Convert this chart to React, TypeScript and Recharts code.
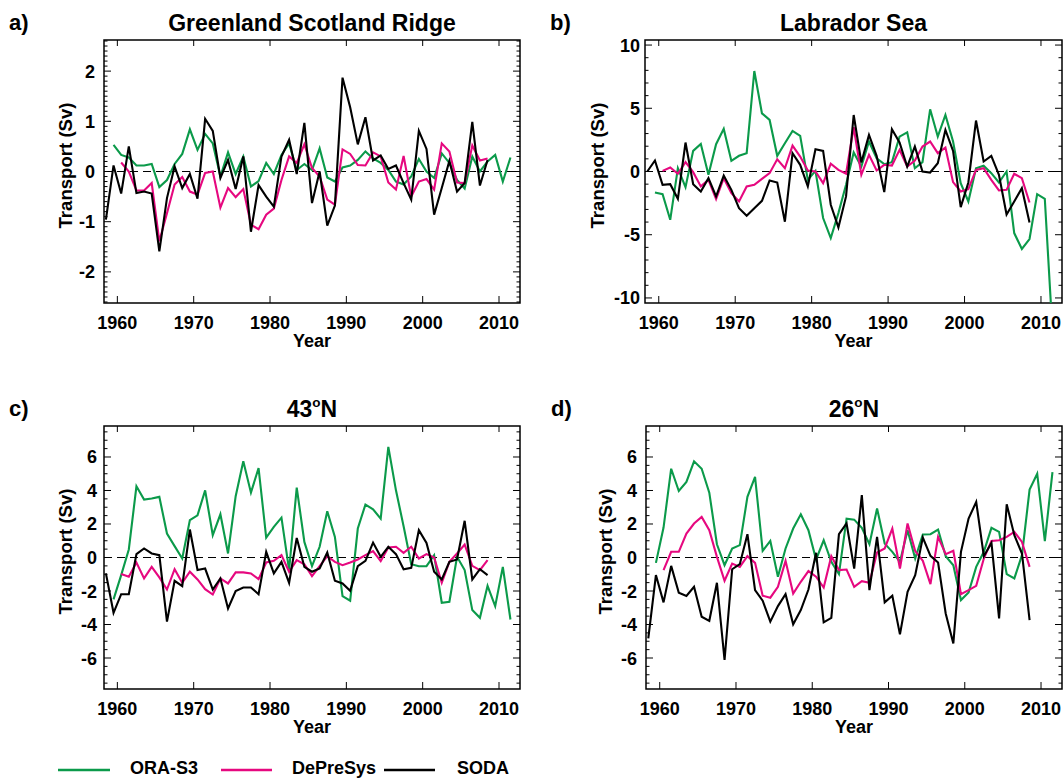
import React from "react";
import { LineChart, Line, XAxis, YAxis, ReferenceLine, ReferenceArea } from "recharts";

const FONT = "'Liberation Sans', Arial, Helvetica, sans-serif";
const GREEN = "#0b9a4a";
const PINK = "#e6087f";
const BLACK = "#000000";

const FIRST_YEAR = 1958;
const LAST_YEAR = 2011;
const ORA_START = 1959;
const DEP_START = 1960;
const SODA_START = 1958;
const yearTicks = [1960, 1970, 1980, 1990, 2000, 2010];

const seriesNames = ["ORA-S3", "DePreSys", "SODA"];

// a) Greenland Scotland Ridge
const gsrOra = [0.53, 0.33, 0.28, 0.12, 0.12, 0.15, -0.31, -0.17, 0.15, 0.35, 0.84, 0.43, 0.75, 0.56, -0.1, 0.38, -0.05, 0.3, -0.3, -0.19, 0.17, -0.05, 0.33, 0.56, 0.03, 0.15, 0.03, 0.46, -0.12, -0.2, 0.08, 0.12, 0.23, 0.4, 0.26, 0.17, 0.03, -0.2, -0.26, -0.1, 0.25, 0.0, -0.13, 0.36, 0.17, -0.17, -0.34, 0.3, 0.0, 0.2, 0.33, -0.2, 0.28];
const gsrDep = [0.18, 0.0, -0.38, -0.38, -0.23, -1.39, -0.83, -0.26, -0.11, -0.4, -0.46, -0.03, 0.0, -0.72, -0.33, -0.51, -0.35, -1.06, -1.15, -0.86, -0.74, -0.17, 0.3, 0.17, 0.54, 0.07, -0.1, -0.56, -0.66, 0.44, 0.35, 0.13, 0.12, 0.38, 0.3, -0.22, -0.36, 0.31, -0.5, -0.2, -0.15, -0.36, 0.56, 0.4, -0.22, -0.23, 0.52, 0.22, 0.26];
const gsrSoda = [-0.96, 0.12, -0.44, 0.5, -0.43, -0.4, -0.44, -1.59, -0.53, 0.1, -0.33, -0.05, -0.54, 1.05, 0.81, -0.13, 0.23, -0.35, 0.3, -1.2, -0.27, -0.5, -0.7, 0.3, 0.63, -0.05, 0.97, -0.63, 0.0, -1.08, -0.68, 1.87, 1.28, 0.54, 1.08, 0.22, 0.32, 0.05, 0.12, -0.23, -0.56, 0.81, 0.45, -0.86, -0.33, 0.21, -0.4, -0.23, 0.99, -0.28, 0.23];

// b) Labrador Sea
const labOra = [-1.66, -1.79, -3.82, 0.26, -1.24, 1.63, 2.18, -0.26, 2.16, 3.37, 0.84, 1.24, 1.45, 7.95, 4.6, 4.08, 1.24, 2.24, 3.21, 2.82, -0.66, 0.05, -3.68, -5.26, -3.29, -1.05, 1.5, 0.39, 2.37, 1.05, 0.58, 0.74, 2.76, 3.1, 0.26, 0.74, 4.92, 2.76, 4.47, 2.37, -0.92, -2.37, 0.26, 0.45, -0.13, -0.87, 0.0, -4.87, -6.13, -5.34, -1.79, -2.16, -12.6];
const labDep = [0.05, 0.32, -0.18, 0.74, -0.05, -1.18, -0.66, -2.18, -0.53, -1.71, -2.37, -1.18, -1.05, -0.58, -0.13, 0.97, 0.26, 2.05, 1.18, 0.08, 0.0, -0.92, 0.61, 0.13, -0.18, 3.5, -0.26, 1.32, 0.08, 0.53, 0.47, 1.71, 0.39, 0.87, 1.97, 2.37, 1.45, 1.89, -0.84, -1.58, -1.39, 0.13, 0.26, -0.66, -1.5, -1.45, -0.18, -0.53, -2.45];
const labSoda = [0.0, 0.87, -1.05, -1.0, -2.16, 2.29, -1.0, -1.58, -0.53, -1.97, -0.32, -1.45, -2.9, -3.5, -2.9, -2.32, -0.71, -0.87, -3.97, 1.45, 0.53, -1.18, 1.76, 1.63, -2.63, -4.42, -1.97, 4.47, 0.71, 2.89, 1.24, -1.63, 3.34, 2.29, 0.39, 1.97, 0.0, -0.08, 0.66, 3.29, 1.63, -2.82, -0.87, 4.03, 0.79, 1.24, -0.26, -3.4, -2.37, -1.32, -4.03];

// c) 43N
const n43Ora = [-2.5, -1.05, 0.48, 4.25, 3.46, 3.52, 3.62, 1.43, 0.68, -0.06, 2.23, 2.52, 4.01, 1.33, 2.58, 0.24, 3.66, 5.74, 3.87, 5.34, 1.19, 1.83, 2.38, -0.75, 4.17, 0.93, -0.52, 0.64, 2.76, 1.23, -2.3, -2.58, 1.73, 3.16, 2.88, 2.32, 6.6, 4.01, 1.87, -0.4, -0.52, -0.52, 0.14, -2.7, -2.64, 0.04, -0.75, -3.14, -3.6, -1.69, -2.9, -0.56, -3.7];
const n43Dep = [-0.99, -1.15, -0.3, -1.25, -0.56, -1.19, -1.91, -0.7, -1.51, -0.85, -1.31, -1.89, -2.21, -1.25, -1.55, -0.89, -0.89, -0.95, -1.29, -0.3, -0.2, 0.14, -0.85, -0.16, -0.4, -1.11, -0.52, 0.08, -0.26, -0.46, -0.3, -0.12, 0.14, 0.38, -0.22, 0.6, 0.64, 0.28, 0.64, -0.06, 0.2, 0.0, -1.51, -0.26, 0.24, 0.77, -0.5, -0.75, -0.16];
const n43Soda = [-0.95, -3.3, -2.19, -2.19, 0.2, 0.54, 0.24, 0.14, -3.83, -1.39, -1.71, 1.67, -0.75, -0.66, -1.91, -1.25, -3.04, -2.0, -1.79, -1.79, -2.19, 0.34, -0.95, -0.26, -1.51, 1.17, -0.56, -0.85, -0.66, 0.3, -1.39, -1.55, -1.99, -0.52, -0.2, 0.89, 0.04, 0.64, 0.2, -0.7, -0.62, 1.63, 0.87, -0.85, -1.31, -0.26, -0.12, 2.19, -1.31, -0.7, -1.05];

// d) 26N
const n26Ora = [-0.32, 1.79, 5.3, 3.97, 4.51, 5.74, 5.3, 3.87, 0.79, -0.46, 0.54, 0.74, 3.62, 4.81, 0.4, 0.99, -1.15, 0.54, 1.73, 2.58, 1.63, -0.12, 1.03, -0.26, -0.99, 2.32, 2.26, 1.77, 0.79, 2.92, 0.83, 0.34, -0.26, 1.63, -0.06, 1.37, 1.39, 1.67, 0.08, -0.46, -2.54, -2.09, -0.56, 0.34, 1.77, 1.53, -0.99, -1.25, 0.14, 4.05, 5.0, 0.97, 5.1];
const n26Dep = [-0.75, 0.34, 0.34, 1.43, 2.03, 2.42, 1.63, 0.04, -1.39, -0.36, -0.56, 0.08, -0.32, -2.28, -2.4, -1.75, -0.2, -2.15, -1.45, -0.81, -1.15, -1.79, 0.08, -0.75, -0.72, -1.75, -1.41, -1.51, 0.3, 0.54, 1.73, -0.66, 2.03, 0.38, -0.2, -1.59, 1.23, 0.2, 0.4, -2.19, -1.95, -1.69, -0.06, 0.99, 1.03, 1.23, 1.53, 0.93, -0.56];
const n26Soda = [-4.83, -1.05, -2.68, -0.5, -2.1, -2.3, -1.75, -3.54, -3.78, -1.51, -6.12, -0.7, -0.4, 1.39, -1.95, -2.58, -3.83, -2.9, -2.19, -3.99, -3.14, -1.91, 0.28, -3.87, -3.6, 1.39, 2.03, -0.66, 3.72, -1.95, 1.23, -2.68, -2.28, -4.59, -2.05, -1.05, 1.19, 0.1, -0.3, -3.34, -5.13, 0.34, 2.32, 3.32, 0.08, 0.87, -3.64, 3.18, 1.33, 0.24, -3.74];

const gsrTicks = [-2, -1, 0, 1, 2];
const labTicks = [-10, -5, 0, 5, 10];
const amocTicks = [-6, -4, -2, 0, 2, 4, 6];

type Panel = {
  letter: string;
  title: string;
  deg: boolean;
  left: number;
  right: number;
  top: number;
  bottom: number;
  xDomain: [number, number];
  yMax: number;
  yMajor: number[];
  step: number;
  gap: number;
  ylabX: number;
  ora: number[];
  dep: number[];
  soda: number[];
};

const panels: Panel[] = [
  {
    letter: "a)", title: "Greenland Scotland Ridge", deg: false,
    left: 104, right: 520, top: 40, bottom: 303,
    xDomain: [1958.25, 2012.75], yMax: 2.62, yMajor: gsrTicks, step: 0.1, gap: 9, ylabX: 72,
    ora: gsrOra, dep: gsrDep, soda: gsrSoda,
  },
  {
    letter: "b)", title: "Labrador Sea", deg: false,
    left: 645, right: 1062, top: 40, bottom: 303,
    xDomain: [1958.2, 2012.75], yMax: 10.4, yMajor: labTicks, step: 1, gap: 5, ylabX: 604,
    ora: labOra, dep: labDep, soda: labSoda,
  },
  {
    letter: "c)", title: "43", deg: true,
    left: 104, right: 520, top: 426, bottom: 689,
    xDomain: [1958.25, 2012.75], yMax: 7.85, yMajor: amocTicks, step: 0.5, gap: 7, ylabX: 72,
    ora: n43Ora, dep: n43Dep, soda: n43Soda,
  },
  {
    letter: "d)", title: "26", deg: true,
    left: 646, right: 1062, top: 426, bottom: 689,
    xDomain: [1958.2, 2012.75], yMax: 7.85, yMajor: amocTicks, step: 0.5, gap: 9, ylabX: 612,
    ora: n26Ora, dep: n26Dep, soda: n26Soda,
  },
];

function buildRows(ora: number[], dep: number[], soda: number[]) {
  const rows: any[] = [];
  for (let y = FIRST_YEAR; y <= LAST_YEAR; y++) {
    rows.push({
      t: y + 0.5,
      ora: ora[y - ORA_START],
      dep: dep[y - DEP_START],
      soda: soda[y - SODA_START],
    });
  }
  return rows;
}

const ML = 60;
const MT = 10;
const MR = 10;
const XH = 50;
const FS = 18;

function PanelChart({ p }: { p: Panel }) {
  const plotW = p.right - p.left;
  const plotH = p.bottom - p.top;
  const rows = buildRows(p.ora, p.dep, p.soda);

  // minor ticks every `step`, labelled majors from the tick arrays
  const minor: number[] = [];
  const n = Math.floor(p.yMax / p.step + 1e-9);
  for (let i = -n; i <= n; i++) minor.push(Math.round(i * p.step * 1000) / 1000);
  const isMajor = (v: number) => p.yMajor.some((m) => Math.abs(m - v) < 1e-6);

  const YTick = (t: any) => {
    const v = Number(t.payload.value);
    const major = isMajor(v);
    const len = major ? 7 : 3.5;
    return (
      <g>
        <line x1={t.x} x2={t.x + len} y1={t.y} y2={t.y} stroke="#000" strokeWidth={1} />
        <line x1={t.x + plotW} x2={t.x + plotW - len} y1={t.y} y2={t.y} stroke="#000" strokeWidth={1} />
        {major && (
          <text x={t.x - p.gap} y={t.y} dy={6.5} textAnchor="end" fontFamily={FONT} fontWeight="bold" fontSize={FS} fill="#000">
            {v}
          </text>
        )}
      </g>
    );
  };

  const XTick = (t: any) => (
    <g>
      <line x1={t.x} x2={t.x} y1={t.y} y2={t.y - 7} stroke="#000" strokeWidth={1} />
      <line x1={t.x} x2={t.x} y1={t.y - plotH} y2={t.y - plotH + 6} stroke="#000" strokeWidth={1} />
      <text x={t.x} y={t.y + 25.5} textAnchor="middle" fontFamily={FONT} fontWeight="bold" fontSize={FS} fill="#000">
        {t.payload.value}
      </text>
    </g>
  );

  return (
    <div style={{ position: "absolute", left: p.left - ML, top: p.top - MT }}>
      <LineChart
        width={plotW + ML + MR}
        height={plotH + MT + XH}
        data={rows}
        margin={{ top: MT, right: MR, bottom: 0, left: 0 }}
      >
        <XAxis
          type="number"
          dataKey="t"
          domain={p.xDomain}
          ticks={yearTicks}
          allowDataOverflow
          interval={0}
          axisLine={false}
          tickLine={false}
          tickSize={0}
          tickMargin={0}
          height={XH}
          tick={XTick}
        />
        <YAxis
          type="number"
          domain={[-p.yMax, p.yMax]}
          ticks={minor}
          allowDataOverflow
          interval={0}
          axisLine={false}
          tickLine={false}
          tickSize={0}
          tickMargin={0}
          width={ML}
          tick={YTick}
        />
        <ReferenceLine y={0} stroke="#000" strokeWidth={1} strokeDasharray="8 5" />
        <Line type="linear" dataKey="ora" name={seriesNames[0]} stroke={GREEN} strokeWidth={2.1} dot={false} isAnimationActive={false} />
        <Line type="linear" dataKey="dep" name={seriesNames[1]} stroke={PINK} strokeWidth={2.1} dot={false} isAnimationActive={false} />
        <Line type="linear" dataKey="soda" name={seriesNames[2]} stroke={BLACK} strokeWidth={2.1} dot={false} isAnimationActive={false} />
        <ReferenceArea
          x1={p.xDomain[0]}
          x2={p.xDomain[1]}
          y1={-p.yMax}
          y2={p.yMax}
          fill="none"
          fillOpacity={0}
          stroke="#000"
          strokeWidth={1.5}
          ifOverflow="visible"
        />
      </LineChart>
    </div>
  );
}

function PanelText({ p }: { p: Panel }) {
  const cx = (p.left + p.right) / 2;
  const cy = (p.top + p.bottom) / 2 - 6;
  return (
    <g fontFamily={FONT} fontWeight="bold" fill="#000">
      <text x={p.left - 95} y={p.top - 10.5} fontSize={22}>{p.letter}</text>
      <text x={cx} y={p.top - 9.5} fontSize={23} textAnchor="middle">
        {p.deg ? (
          <>
            {p.title}
            <tspan fontSize={13.5} dy={-9.5}>o</tspan>
            <tspan dy={9.5}>N</tspan>
          </>
        ) : (
          p.title
        )}
      </text>
      <text x={cx} y={p.bottom + 43.5} fontSize={FS} textAnchor="middle">Year</text>
      <text
        x={p.ylabX}
        y={cy}
        fontSize={18.6}
        textAnchor="middle"
        transform={`rotate(-90, ${p.ylabX}, ${cy})`}
      >
        Transport (Sv)
      </text>
    </g>
  );
}

const legendItems = [
  { name: seriesNames[0], color: GREEN, x1: 58, x2: 110, tx: 130 },
  { name: seriesNames[1], color: PINK, x1: 221, x2: 272, tx: 292 },
  { name: seriesNames[2], color: BLACK, x1: 384, x2: 435, tx: 457 },
];

export default function App() {
  return (
    <div style={{ position: "absolute", left: 0, top: 0, width: 1063, height: 780, background: "#fff", overflow: "hidden" }}>
      {panels.map((p) => (
        <PanelChart key={p.letter} p={p} />
      ))}
      <svg width={1063} height={780} style={{ position: "absolute", left: 0, top: 0, pointerEvents: "none" }}>
        {panels.map((p) => (
          <PanelText key={p.letter} p={p} />
        ))}
        {legendItems.map((it) => (
          <g key={it.name}>
            <line x1={it.x1} x2={it.x2} y1={770} y2={770} stroke={it.color} strokeWidth={2.5} />
            <text x={it.tx} y={774} fontFamily={FONT} fontWeight="bold" fontSize={FS} fill="#000">
              {it.name}
            </text>
          </g>
        ))}
      </svg>
    </div>
  );
}
